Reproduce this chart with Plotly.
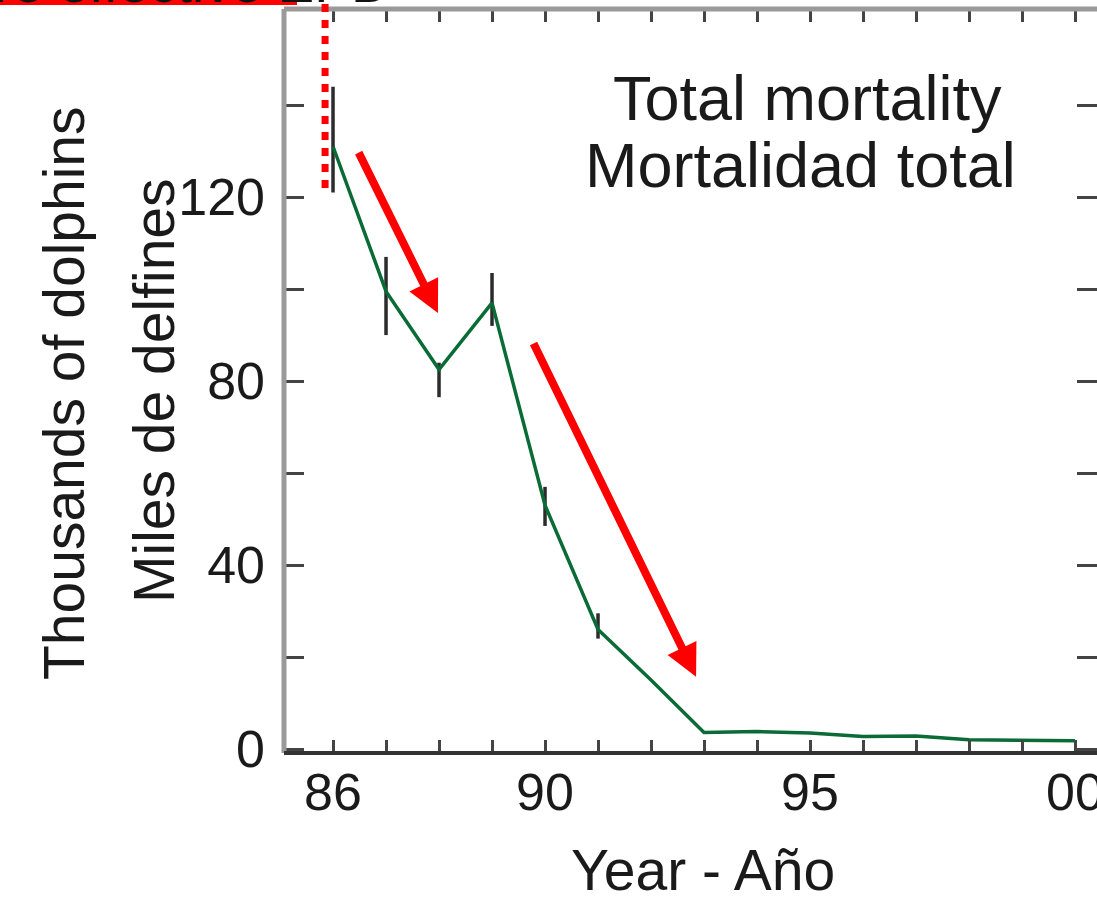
import plotly.graph_objects as go

# ---------------- data ----------------
years = [86, 87, 88, 89, 90, 91, 92, 93, 94, 95, 96, 97, 98, 99, 100]
mortality = [131, 99.5, 82.5, 97, 53, 26, 15, 3.6, 3.8, 3.5, 2.7, 2.8, 2.0, 1.9, 1.8]  # thousands
ci_high = [144, 107, 84, 103.5, 57, 29.5, 15, 3.6, 3.8, 3.5, 2.7, 2.8, 2.0, 1.9, 1.8]
ci_low = [121, 90, 76.5, 92, 48.5, 24, 15, 3.6, 3.8, 3.5, 2.7, 2.8, 2.0, 1.9, 1.8]

x_tickvals = years
x_ticktext = ['86', '', '', '', '90', '', '', '', '', '95', '', '', '', '', '00']
y_tickvals = [0, 20, 40, 60, 80, 100, 120, 140]
y_ticktext = ['0', '', '40', '', '80', '', '120', '']

# annotation arrows (tail -> tip), in data units
arrow1_tail, arrow1_tip = (86.47, 130), (87.98, 94.8)
arrow2_tail, arrow2_tip = (89.77, 88.5), (92.85, 15.7)
marker_year, marker_low = 85.85, 122

# ---------------- layout geometry ----------------
W, H = 1097, 898
ML, MR, MT, MB = 284, 0, 9, 145
PW, PH = W - ML - MR, H - MT - MB
XR = [85.075, 100.415]
YR = [-0.87, 160.9]

def px(xpix):
    return (xpix - ML) / PW

def py(ypix):
    return (H - MB - ypix) / PH

FONT = "Liberation Sans, Arial, sans-serif"
TXT = "#1a1a1a"

err_plus = [h - v for h, v in zip(ci_high, mortality)]
err_minus = [v - l for v, l in zip(mortality, ci_low)]

fig = go.Figure()
fig.add_trace(go.Scatter(
    x=years, y=mortality, mode="lines",
    line=dict(color="#0b6b37", width=3.5),
    error_y=dict(type="data", symmetric=False, array=err_plus, arrayminus=err_minus,
                 color="#2b2b2b", thickness=3.5, width=0),
    showlegend=False, hoverinfo="skip",
))

shapes = [
    # frame lines
    dict(type="line", xref="paper", yref="paper", x0=0, x1=0, y0=0, y1=1,
         line=dict(color="#9a9a9a", width=5)),
    dict(type="line", xref="paper", yref="paper", x0=0, x1=1, y0=1, y1=1,
         line=dict(color="#9a9a9a", width=5)),
    dict(type="line", xref="paper", yref="paper", x0=0, x1=1, y0=0, y1=0,
         line=dict(color="#333333", width=4)),
    # red dotted marker line
    dict(type="line", xref="x", yref="paper", x0=marker_year, x1=marker_year,
         y0=(marker_low - YR[0]) / (YR[1] - YR[0]), y1=1 + 12 / PH,
         line=dict(color="#ff0000", width=7, dash="8px,8px")),
    # red banner at top-left
    dict(type="rect", xref="paper", yref="paper", x0=px(-5), x1=px(297),
         y0=py(5), y1=py(-5), fillcolor="#ff0000", line=dict(width=0), layer="below"),
]

annotations = [
    dict(text="Total mortality", x=px(807), y=py(98), xref="paper", yref="paper",
         showarrow=False, font=dict(family=FONT, size=63, color=TXT),
         xanchor="center", yanchor="middle"),
    dict(text="Mortalidad total", x=px(800), y=py(165), xref="paper", yref="paper",
         showarrow=False, font=dict(family=FONT, size=63, color=TXT),
         xanchor="center", yanchor="middle"),
    dict(text="Thousands of dolphins", x=px(64), y=py(393), xref="paper", yref="paper",
         showarrow=False, textangle=-90, font=dict(family=FONT, size=57, color=TXT),
         xanchor="center", yanchor="middle"),
    dict(text="Miles de delfines", x=px(154), y=py(391), xref="paper", yref="paper",
         showarrow=False, textangle=-90, font=dict(family=FONT, size=57, color=TXT),
         xanchor="center", yanchor="middle"),
    dict(text="Year - Año", x=px(703), y=py(870), xref="paper", yref="paper",
         showarrow=False, font=dict(family=FONT, size=57, color=TXT),
         xanchor="center", yanchor="middle"),
    # banner text at the very top (mostly cut off by the page edge)
    dict(text="1986: more effective EPD", x=px(392), y=py(14.5), xref="paper", yref="paper",
         showarrow=False, font=dict(family=FONT, size=55, color="#111111"),
         xanchor="right", yanchor="bottom", borderpad=0),
]

for tail, tip in [(arrow1_tail, arrow1_tip), (arrow2_tail, arrow2_tip)]:
    annotations.append(dict(
        x=tip[0], y=tip[1], ax=tail[0], ay=tail[1], xref="x", yref="y",
        axref="x", ayref="y", text="", showarrow=True, arrowhead=2,
        arrowsize=0.8, arrowwidth=8, arrowcolor="#ff0000", standoff=0,
    ))

fig.update_layout(
    width=W, height=H,
    margin=dict(l=ML, r=MR, t=MT, b=MB, pad=0, autoexpand=False),
    paper_bgcolor="white", plot_bgcolor="white",
    font=dict(family=FONT, color=TXT),
    shapes=shapes, annotations=annotations,
    xaxis=dict(range=XR, showgrid=False, zeroline=False, showline=False, automargin=False,
               tickmode="array", tickvals=x_tickvals, ticktext=x_ticktext,
               ticks="inside", ticklen=13, tickwidth=3, tickcolor="#444444",
               mirror="allticks", ticklabeloverflow="allow", ticklabelstandoff=4,
               tickfont=dict(family=FONT, size=52, color=TXT)),
    yaxis=dict(range=YR, showgrid=False, zeroline=False, showline=False, automargin=False,
               tickmode="array", tickvals=y_tickvals, ticktext=y_ticktext,
               ticks="inside", ticklen=20, tickwidth=3, tickcolor="#444444",
               mirror="allticks", ticklabeloverflow="allow", ticklabelstandoff=18,
               tickfont=dict(family=FONT, size=52, color=TXT)),
)

fig.write_html("out.html", config={"displayModeBar": False},
               post_script="document.body.style.margin='0';document.body.style.overflow='hidden';")
